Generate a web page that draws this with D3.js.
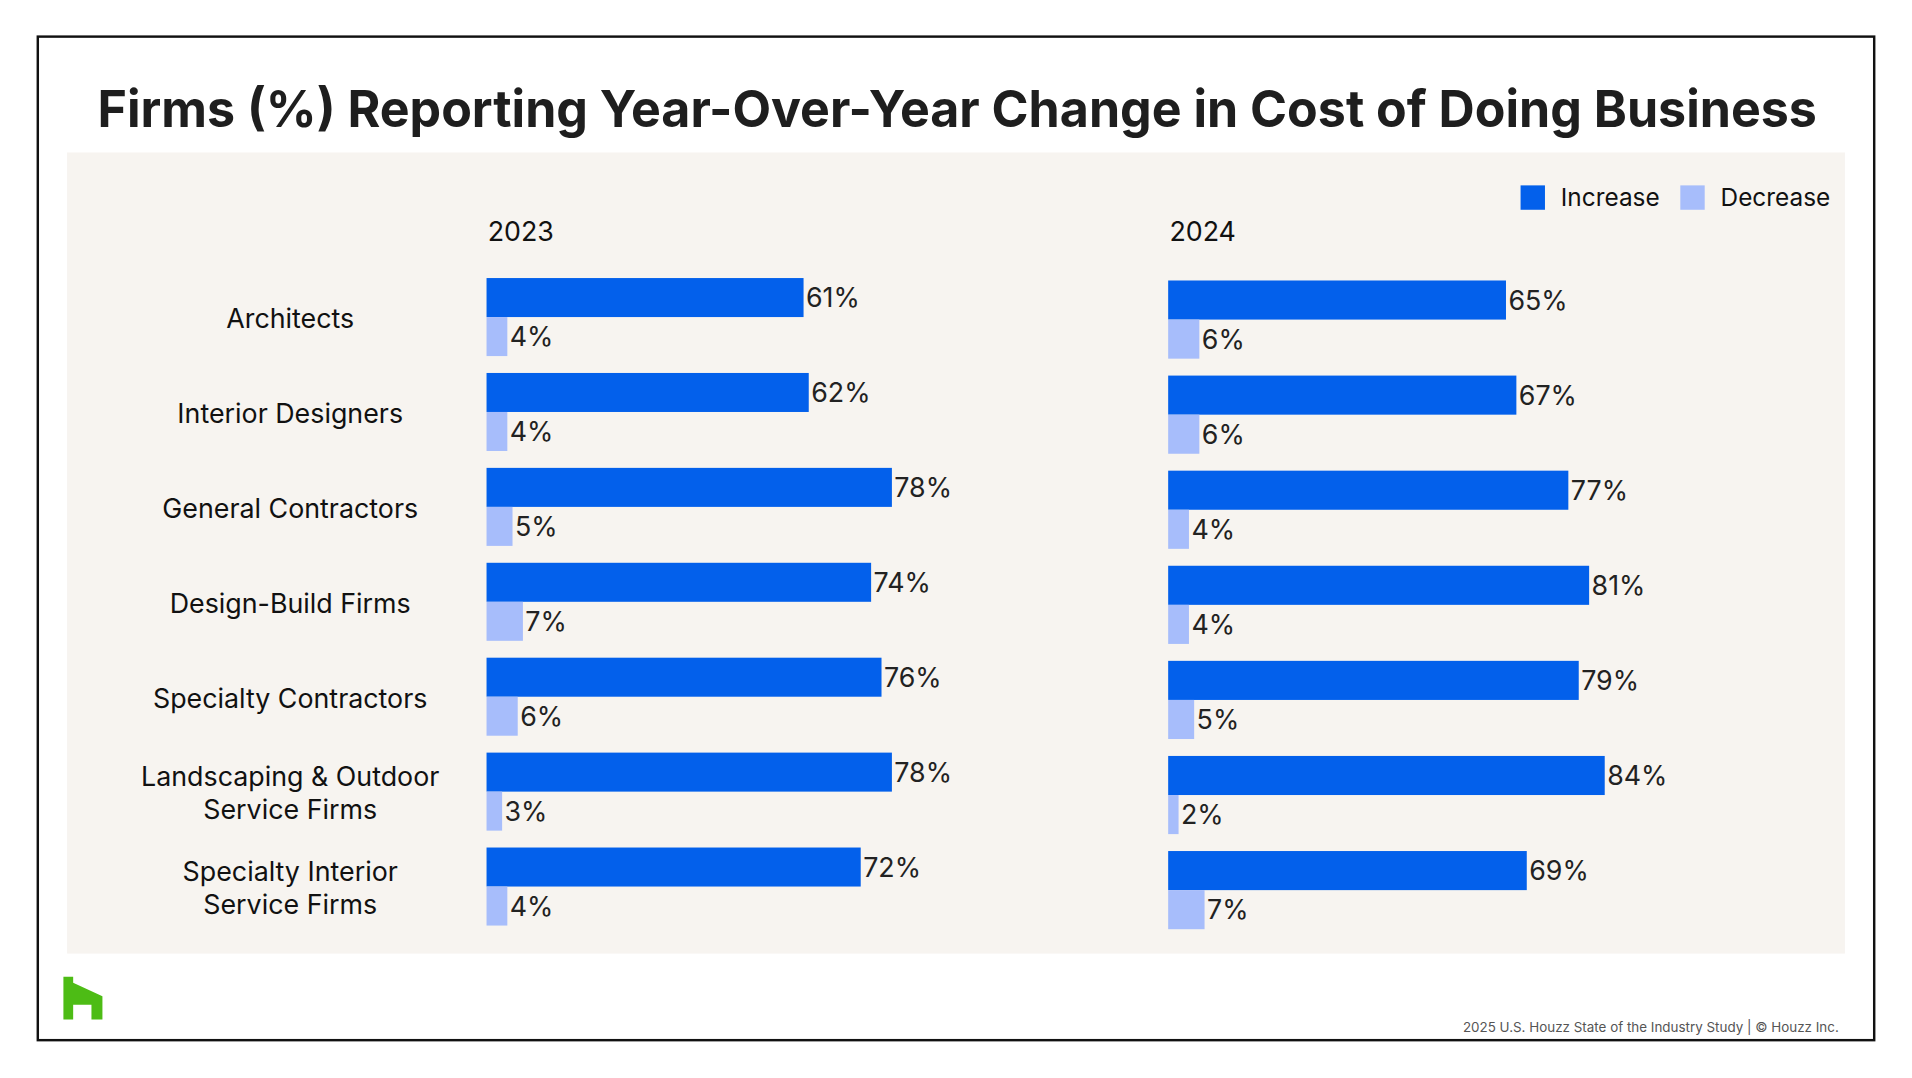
<!DOCTYPE html>
<html>
<head>
<meta charset="utf-8">
<script src="https://cdn.jsdelivr.net/npm/d3@7"></script>
<style>
  html, body { margin: 0; padding: 0; background: #fff; }
  svg { display: block; font-family: Inter, "Noto Sans", sans-serif; }
</style>
</head>
<body>
<svg id="chart" width="1912" height="1078" viewBox="0 0 1568 884"></svg>
<script>
// data
const categories = [
  'Architects',
  'Interior Designers',
  'General Contractors',
  'Design-Build Firms',
  'Specialty Contractors',
  'Landscaping & Outdoor Service Firms',
  'Specialty Interior Service Firms'
]
const categoryLines = [
  ['Architects'],
  ['Interior Designers'],
  ['General Contractors'],
  ['Design-Build Firms'],
  ['Specialty Contractors'],
  ['Landscaping & Outdoor', 'Service Firms'],
  ['Specialty Interior', 'Service Firms']
]
const series = ['Increase', 'Decrease']
const years = ['2023', '2024']
const increase2023 = [61, 62, 78, 74, 76, 78, 72]
const decrease2023 = [4, 4, 5, 7, 6, 3, 4]
const increase2024 = [65, 67, 77, 81, 79, 84, 69]
const decrease2024 = [6, 6, 4, 4, 5, 2, 7]

const colors = { Increase: '#0360eb', Decrease: '#a7bdfb' }

const svg = d3.select('#chart')

// frame
svg.append('rect')
  .attr('x', 31).attr('y', 30).attr('width', 1506).attr('height', 823)
  .attr('fill', '#fff').attr('stroke', '#111').attr('stroke-width', 2)

svg.append('text')
  .attr('x', 785).attr('y', 104)
  .attr('text-anchor', 'middle')
  .attr('font-size', 42).attr('font-weight', 700).attr('fill', '#1e1e1e')
  .attr('textLength', 1410).attr('lengthAdjust', 'spacingAndGlyphs')
  .text('Firms (%) Reporting Year-Over-Year Change in Cost of Doing Business')

svg.append('rect')
  .attr('x', 55).attr('y', 125).attr('width', 1458).attr('height', 657)
  .attr('fill', '#f7f4f0')

// legend
const legend = svg.append('g').attr('transform', 'translate(1247,152)')
const legendX = d3.scalePoint().domain(series).range([0, 131])
series.forEach(s => {
  const g = legend.append('g').attr('transform', `translate(${legendX(s)},0)`)
  g.append('rect').attr('width', 20).attr('height', 20).attr('fill', colors[s])
  g.append('text').attr('x', 33).attr('y', 10).attr('dy', '0.36em')
    .attr('font-size', 20).attr('fill', '#111').text(s)
})

// category labels
const yLabel = d3.scaleBand().domain(categories).range([229, 760]).paddingInner(0.178).paddingOuter(0)
const labels = svg.append('g')
categories.forEach((c, i) => {
  const lines = categoryLines[i]
  const lh = 27
  const cy = yLabel(c) + yLabel.bandwidth() / 2
  const t = labels.append('text')
    .attr('text-anchor', 'middle')
    .attr('font-size', 22).attr('fill', '#111')
  lines.forEach((ln, j) => {
    t.append('tspan')
      .attr('x', 238)
      .attr('y', cy + (j - (lines.length - 1) / 2) * lh)
      .attr('dy', '0.36em')
      .text(ln)
  })
})

const panels = [
  { year: '2023', x0: 399, top: 228, bottom: 759, inc: increase2023, dec: decrease2023 },
  { year: '2024', x0: 958, top: 230, bottom: 762, inc: increase2024, dec: decrease2024 }
]

panels.forEach(p => {
  const x = d3.scaleLinear().domain([0, 100]).range([p.x0, p.x0 + 426.2])
  const y = d3.scaleBand().domain(categories).range([p.top, p.bottom]).paddingInner(0.178).paddingOuter(0)
  const ys = d3.scaleBand().domain(series).range([0, y.bandwidth()])

  svg.append('text')
    .attr('x', p.x0 + 1).attr('y', 198)
    .attr('font-size', 22).attr('fill', '#111')
    .text(p.year)

  const rows = categories.map((c, i) => ({ c, Increase: p.inc[i], Decrease: p.dec[i] }))
  const g = svg.append('g')
  const grp = g.selectAll('g.row').data(rows).enter().append('g')
    .attr('class', 'row')
    .attr('transform', d => `translate(0,${y(d.c)})`)

  series.forEach(s => {
    grp.append('rect')
      .attr('x', x(0))
      .attr('y', ys(s))
      .attr('width', d => x(d[s]) - x(0))
      .attr('height', ys.bandwidth())
      .attr('fill', colors[s])
    grp.append('text')
      .attr('x', d => x(d[s]) + 2)
      .attr('y', ys(s) + ys.bandwidth() / 2)
      .attr('dy', '0.36em')
      .attr('font-size', 22).attr('fill', '#222')
      .text(d => d[s] + '%')
  })
})

// houzz mark
svg.append('path')
  .attr('d', 'M52,801 L60,801 L60,806 L84,817 L84,836 L75,836 L75,824 L60,824 L60,836 L52,836 Z')
  .attr('fill', '#4dbc15')

svg.append('text')
  .attr('x', 1508).attr('y', 846)
  .attr('text-anchor', 'end')
  .attr('font-size', 11).attr('fill', '#555')
  .text('2025 U.S. Houzz State of the Industry Study  |  © Houzz Inc.')
</script>
</body>
</html>
